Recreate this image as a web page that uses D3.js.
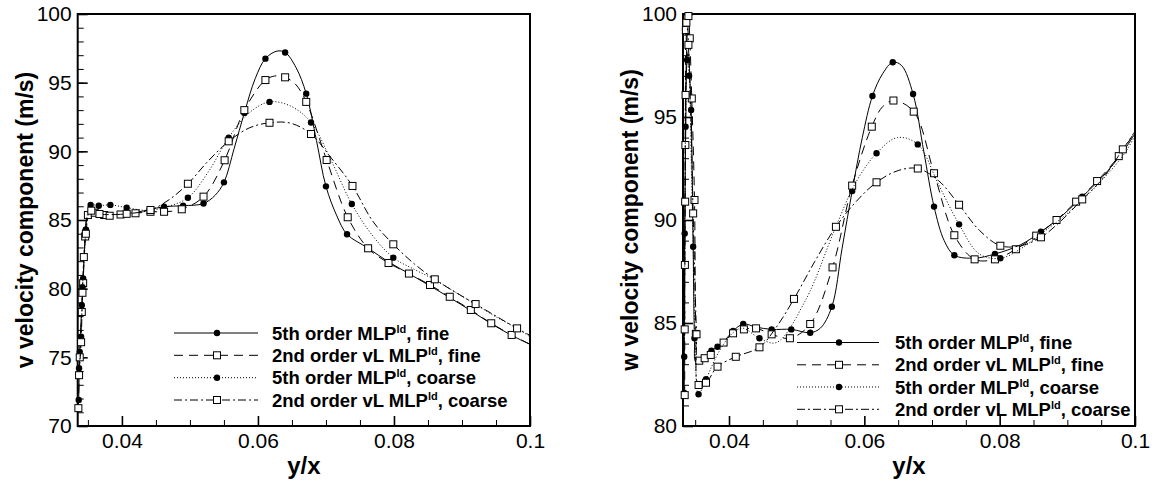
<!DOCTYPE html>
<html>
<head>
<meta charset="utf-8">
<script src="https://cdn.jsdelivr.net/npm/d3@7"></script>
<style>
  body { margin: 0; background: #fff; }
  text { font-family: "Liberation Sans", Arial, sans-serif; }
</style>
</head>
<body>
<svg id="chart" width="1165" height="485"></svg>
<script>
// --- tick labels ---
const xMajor = [0.04, 0.06, 0.08, 0.1];
const vTicks = [70, 75, 80, 85, 90, 95, 100];
const wTicks = [80, 85, 90, 95, 100];

// --- legend entries ---
const seriesNames = ["5th order MLP", "2nd order vL MLP", "5th order MLP", "2nd order vL MLP"];
const seriesGrids = ["fine", "fine", "coarse", "coarse"];

// --- v velocity (left), [y/x, v, shown with symbol] ---
const vFine5 = [[0.03365,71.9,1],[0.0338,75.4,1],[0.0341,78.8,1],[0.0343,80.75,1],[0.0347,84.3,1],[0.0350,85.2,0],
  [0.0365,85.35,0],[0.0390,85.4,0],[0.0420,85.55,0],[0.0440,85.75,0],[0.0462,85.97,1],[0.0490,86.04,1],[0.0520,86.2,1],
  [0.0537,86.8,0],[0.0550,87.74,1],[0.0565,90.2,0],[0.0580,92.8,1],[0.0596,95.3,0],[0.0611,96.75,1],[0.0628,97.3,0],
  [0.0640,97.2,1],[0.0656,96.1,0],[0.0671,94.2,1],[0.0686,90.8,0],[0.0700,87.45,1],[0.0716,85.3,0],[0.0731,83.96,1],
  [0.0762,82.95,0],[0.0792,81.95,0],[0.0822,81.1,0],[0.0853,80.2,0],[0.0882,79.35,0],[0.0913,78.4,0],[0.0943,77.45,0],
  [0.0973,76.6,0],[0.1,75.95,0]];
const vFine2 = [[0.0336,71.3,1],[0.0338,75.0,1],[0.0341,78.3,1],[0.0343,80.4,1],[0.0346,83.8,1],[0.0350,85.36,1],
  [0.0360,85.53,1],[0.0374,85.36,1],[0.0382,85.31,1],[0.0398,85.4,1],[0.0420,85.49,1],[0.0442,85.6,1],[0.0462,85.6,1],
  [0.0488,85.78,1],[0.0520,86.7,1],[0.0551,89.35,1],[0.0580,93.0,1],[0.0611,95.19,1],[0.0627,95.5,0],[0.0640,95.39,1],
  [0.0655,94.9,0],[0.0671,93.6,1],[0.0701,89.37,1],[0.0732,85.2,1],[0.0762,82.94,1],[0.0792,81.87,1],[0.0822,81.1,1],
  [0.0853,80.27,1],[0.0882,79.41,1],[0.0913,78.45,1],[0.0943,77.48,1],[0.0973,76.63,1],[0.1,75.95,0]];
const vCoarse5 = [[0.0337,74.2,1],[0.0340,76.5,1],[0.0342,80.1,1],[0.0345,82.5,0],[0.0347,84.3,1],[0.0350,85.6,0],
  [0.0354,86.1,1],[0.0366,86.04,1],[0.0383,86.1,1],[0.0407,85.9,1],[0.0437,85.7,0],[0.0465,85.95,0],[0.0497,86.62,1],
  [0.0527,88.5,0],[0.0557,91.0,1],[0.0587,92.8,0],[0.0617,93.6,1],[0.0648,93.3,0],[0.0678,92.1,1],[0.0708,89.3,0],
  [0.0738,86.16,1],[0.0768,83.9,0],[0.0799,82.26,1],[0.0830,81.4,0],[0.0860,80.65,0],[0.0890,79.75,0],[0.0920,78.85,0],
  [0.0950,77.95,0],[0.0981,77.1,0],[0.1,76.5,0]];
const vCoarse2 = [[0.0337,73.7,1],[0.0340,76.1,1],[0.0342,79.7,1],[0.0344,82.3,1],[0.0347,84.0,1],[0.0351,85.4,0],
  [0.0355,85.68,1],[0.0367,85.44,1],[0.0390,85.4,0],[0.0407,85.45,1],[0.0442,85.73,1],[0.0470,86.5,0],[0.0497,87.64,1],
  [0.0527,89.3,0],[0.0557,90.73,1],[0.0587,91.7,0],[0.0617,92.08,1],[0.0648,92.05,0],[0.0678,91.26,1],[0.0708,89.5,0],
  [0.0739,87.48,1],[0.0769,84.9,0],[0.0799,83.23,1],[0.0830,81.8,0],[0.0860,80.68,1],[0.0890,79.75,0],[0.0920,78.88,1],
  [0.0950,78.0,0],[0.0981,77.11,1],[0.1,76.6,0]];

// --- w velocity (right) ---
const wFine5 = [[0.03338,81.6,1],[0.03341,85.5,0],[0.03345,89.35,1],[0.0336,94.3,0],[0.0338,97.77,1],[0.0340,98.2,0],
  [0.0342,97.0,0],[0.0344,95.34,1],[0.0347,88.7,0],[0.0349,84.26,1],[0.0351,83.1,0],[0.0358,83.2,0],[0.0366,83.4,0],
  [0.0374,83.65,1],[0.0383,83.85,1],[0.0395,84.2,0],[0.0406,84.61,1],[0.0421,84.95,1],[0.0440,84.8,0],[0.0463,84.69,1],
  [0.0492,84.69,1],[0.0520,84.53,1],[0.0535,84.75,0],[0.0552,85.79,1],[0.0567,88.6,0],[0.0582,91.41,1],[0.0597,94.0,0],
  [0.0612,96.02,1],[0.0627,97.1,0],[0.0642,97.66,1],[0.0655,97.5,0],[0.0672,96.12,1],[0.0688,93.3,0],[0.0703,90.65,1],
  [0.0718,89.0,0],[0.0733,88.29,1],[0.0763,88.15,0],[0.0793,88.35,1],[0.0831,88.8,0],[0.0861,89.43,1],[0.0892,90.2,0],
  [0.0922,91.13,1],[0.0952,92.1,0],[0.0982,93.3,0],[0.1,94.2,0]];
const wFine2 = [[0.03345,81.5,1],[0.03348,87.82,1],[0.03355,93.64,1],[0.03362,99.22,1],[0.0337,99.58,1],[0.0340,99.9,1],
  [0.0342,98.82,1],[0.0345,95.9,1],[0.0349,90.97,1],[0.0351,84.47,1],[0.0353,83.1,0],[0.0356,83.17,1],[0.0364,83.29,1],
  [0.0373,83.45,1],[0.0392,84.05,1],[0.0406,84.5,1],[0.0422,84.69,1],[0.0440,84.74,1],[0.0463,84.45,1],[0.0490,84.26,1],
  [0.0520,84.95,1],[0.0553,87.7,1],[0.0582,91.67,1],[0.0611,94.53,1],[0.0627,95.5,0],[0.0643,95.8,1],[0.0673,95.26,1],
  [0.0703,92.27,1],[0.0733,89.26,1],[0.0763,88.09,1],[0.0793,88.09,1],[0.0824,88.58,1],[0.0854,89.24,1],[0.0884,90.0,1],
  [0.0913,90.89,1],[0.0944,91.89,1],[0.0976,93.1,1],[0.1,94.3,0]];
const wCoarse5 = [[0.03338,83.36,1],[0.03345,88.0,0],[0.03358,94.53,1],[0.0338,97.9,0],[0.0341,97.0,1],[0.0344,93.0,0],
  [0.0347,88.7,1],[0.0350,84.3,0],[0.0355,81.54,1],[0.0366,82.27,1],[0.0385,83.6,0],[0.0405,84.5,0],[0.0420,84.75,0],
  [0.0445,84.26,1],[0.0470,84.05,0],[0.0513,86.1,0],[0.0557,89.6,0],[0.0587,91.8,0],[0.0618,93.24,1],[0.0649,94.0,0],
  [0.0679,93.67,1],[0.0710,91.7,0],[0.0740,89.79,1],[0.0770,88.35,0],[0.0801,88.14,1],[0.0831,88.6,0],[0.0862,89.35,0],
  [0.0892,90.1,0],[0.0923,91.0,0],[0.0953,92.0,0],[0.0984,93.2,0],[0.1,94.1,0]];
const wCoarse2 = [[0.03345,84.69,1],[0.03348,88.5,0],[0.03352,90.89,1],[0.03358,96.07,1],[0.0339,99.4,0],[0.0340,98.5,1],
  [0.0344,94.5,0],[0.0347,90.32,1],[0.0350,86.5,0],[0.0352,84.45,1],[0.0355,81.99,1],[0.0366,82.1,1],[0.0383,82.88,1],
  [0.0410,83.36,1],[0.0445,83.82,1],[0.0470,84.8,0],[0.0496,86.17,1],[0.0527,88.0,0],[0.0558,89.67,1],[0.0588,90.9,0],
  [0.0618,91.83,1],[0.0650,92.4,0],[0.0679,92.5,1],[0.0710,91.9,0],[0.0740,90.74,1],[0.0770,89.5,0],[0.0801,88.75,1],
  [0.0831,88.75,0],[0.0861,89.16,1],[0.0892,90.0,0],[0.0922,91.0,1],[0.0952,92.0,0],[0.0982,93.43,1],[0.1,94.3,0]];

const svg = d3.select("#chart");

const styles = [
  { dash: null, mark: "circle" },
  { dash: "9,6", mark: "square" },
  { dash: "1,2", mark: "circle" },
  { dash: "8,3,2,3", mark: "square" }
];

const panels = [
  {
    id: "v", left: 77.7, right: 530, top: 14, bottom: 426,
    xDomain: [0.0335, 0.1], yDomain: [70, 100], yTicks: vTicks,
    title: "v velocity component (m/s)", titleX: 33,
    series: [vFine5, vFine2, vCoarse5, vCoarse2],
    legend: { x1: 174, x2: 258, xm: 217, tx: 272, ys: [333, 355.3, 377.7, 400] }
  },
  {
    id: "w", left: 683, right: 1135, top: 14, bottom: 426,
    xDomain: [0.0332, 0.1], yDomain: [80, 100], yTicks: wTicks,
    title: "w velocity component (m/s)", titleX: 638,
    series: [wFine5, wFine2, wCoarse5, wCoarse2],
    legend: { x1: 797, x2: 879, xm: 839, tx: 895, ys: [342.5, 364.8, 387, 409.3] }
  }
];

function drawMark(g, kind, cx, cy) {
  if (kind === "circle") {
    g.append("circle").attr("cx", cx).attr("cy", cy).attr("r", 3.2).attr("fill", "#000");
  } else {
    g.append("rect").attr("x", cx - 3.5).attr("y", cy - 3.5).attr("width", 7).attr("height", 7)
      .attr("fill", "#fff").attr("stroke", "#000").attr("stroke-width", 1);
  }
}

panels.forEach(p => {
  const x = d3.scaleLinear().domain(p.xDomain).range([p.left, p.right]);
  const y = d3.scaleLinear().domain(p.yDomain).range([p.bottom, p.top]);
  const g = svg.append("g");

  svg.append("clipPath").attr("id", "clip-" + p.id)
    .append("rect")
    .attr("x", p.left).attr("y", p.top)
    .attr("width", p.right - p.left).attr("height", p.bottom - p.top);

  // minor ticks
  const xMinor = d3.range(0.035, 0.1, 0.005).filter(v => !xMajor.some(m => Math.abs(m - v) < 1e-6));
  g.append("g")
    .attr("transform", `translate(0,${p.bottom})`)
    .call(d3.axisBottom(x).tickValues(xMinor).tickSize(-6).tickFormat(""))
    .call(a => a.select(".domain").remove());
  g.append("g")
    .attr("transform", `translate(${p.left},0)`)
    .call(d3.axisLeft(y).tickValues(d3.range(p.yDomain[0], p.yDomain[1] + 1, 1)).tickSize(-6).tickFormat(""))
    .call(a => a.select(".domain").remove());

  // major ticks + labels
  const xAx = g.append("g")
    .attr("transform", `translate(0,${p.bottom})`)
    .call(d3.axisBottom(x).tickValues(xMajor).tickSize(-10).tickPadding(7).tickFormat(d3.format("~g")));
  const yAx = g.append("g")
    .attr("transform", `translate(${p.left},0)`)
    .call(d3.axisLeft(y).tickValues(p.yTicks).tickSize(-10).tickPadding(6));
  [xAx, yAx].forEach(a => {
    a.select(".domain").remove();
    a.selectAll(".tick line").attr("stroke-width", 1.6);
    a.selectAll("text").attr("font-size", 21).attr("font-family", '"Liberation Sans", Arial, sans-serif').attr("fill", "#000");
  });

  // frame
  g.append("rect")
    .attr("x", p.left).attr("y", p.top)
    .attr("width", p.right - p.left).attr("height", p.bottom - p.top)
    .attr("fill", "none").attr("stroke", "#000").attr("stroke-width", 2);

  // axis titles
  g.append("text")
    .attr("x", (p.left + p.right) / 2).attr("y", 474)
    .attr("text-anchor", "middle").attr("font-size", 24).attr("font-weight", "bold")
    .text("y/x");
  g.append("text")
    .attr("transform", `translate(${p.titleX},${(p.top + p.bottom) / 2}) rotate(-90)`)
    .attr("text-anchor", "middle").attr("font-size", 23).attr("font-weight", "bold")
    .text(p.title);

  // curves
  const line = d3.line()
    .x(d => x(d[0])).y(d => y(d[1]))
    .curve(d3.curveCatmullRom.alpha(0.5));

  p.series.forEach((data, i) => {
    const st = styles[i];
    g.append("path")
      .datum(data)
      .attr("clip-path", `url(#clip-${p.id})`)
      .attr("d", line)
      .attr("fill", "none").attr("stroke", "#000").attr("stroke-width", 1)
      .attr("stroke-dasharray", st.dash);
    const mg = g.append("g");
    data.filter(d => d[2]).forEach(d => drawMark(mg, st.mark, x(d[0]), y(d[1])));
  });

  // legend
  const L = p.legend;
  seriesNames.forEach((name, i) => {
    const st = styles[i];
    const ly = L.ys[i];
    g.append("line")
      .attr("x1", L.x1).attr("x2", L.x2).attr("y1", ly).attr("y2", ly)
      .attr("stroke", "#000").attr("stroke-width", 1).attr("stroke-dasharray", st.dash);
    drawMark(g, st.mark, L.xm, ly);
    const t = g.append("text")
      .attr("x", L.tx).attr("y", ly + 6.5)
      .attr("font-size", 18.5).attr("font-weight", "bold");
    t.append("tspan").text(name);
    t.append("tspan").attr("font-size", 11).attr("dy", -7).text("ld");
    t.append("tspan").attr("dy", 7).text(", " + seriesGrids[i]);
  });
});
</script>
</body>
</html>
